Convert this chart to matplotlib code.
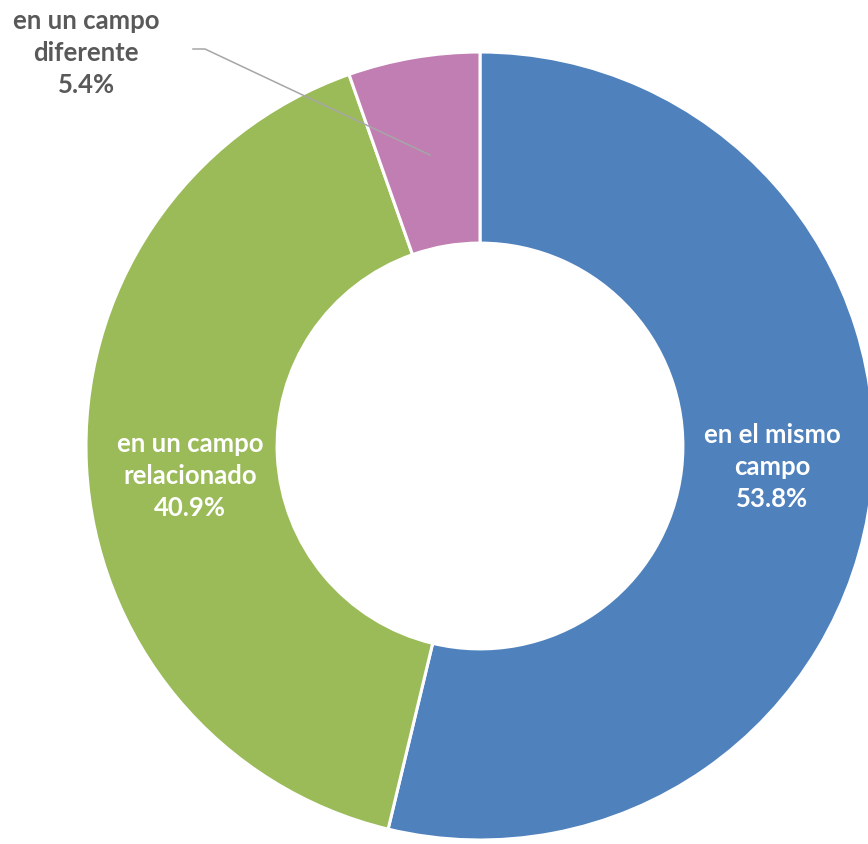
import numpy as np
import matplotlib
matplotlib.use('Agg')
import matplotlib.pyplot as plt

# data
categories = ['en el mismo\ncampo', 'en un campo\nrelacionado', 'en un campo\ndiferente']
shares = [53.8, 40.9, 5.4]
colors = ['#4F81BD', '#9BBB59', '#C17EB2']

W, H = 868, 845
fig = plt.figure(figsize=(W / 100, H / 100), dpi=100)
ax = fig.add_axes([0, 0, 1, 1])

cx, cy = 480, H - 447
R = 394
ring = 0.485

wedges, _ = ax.pie(shares, colors=colors, startangle=90, counterclock=False,
                   center=(cx, cy), radius=R, frame=True,
                   wedgeprops=dict(width=R * ring, edgecolor='white', linewidth=2.2))
ax.set_xlim(0, W)
ax.set_ylim(0, H)
ax.set_aspect('equal')
ax.axis('off')

font = dict(family=['Lato', 'DejaVu Sans'], fontweight='bold', fontsize=18.5,
            ha='center', va='center', linespacing=1.38)

# inside labels
for i, (x, y) in enumerate([(772, 467), (190, 476)]):
    ax.text(x, H - y, '%s\n%.1f%%' % (categories[i], shares[i]), color='white', **font)

# outside label with leader line
ax.text(86, H - 53, '%s\n%.1f%%' % (categories[2], shares[2]), color='#595959', **font)
ax.plot([193, 205, 430], [H - 50, H - 50, H - 156], color='#A6A6A6', lw=1.1)

fig.savefig('out.png', dpi=100)
